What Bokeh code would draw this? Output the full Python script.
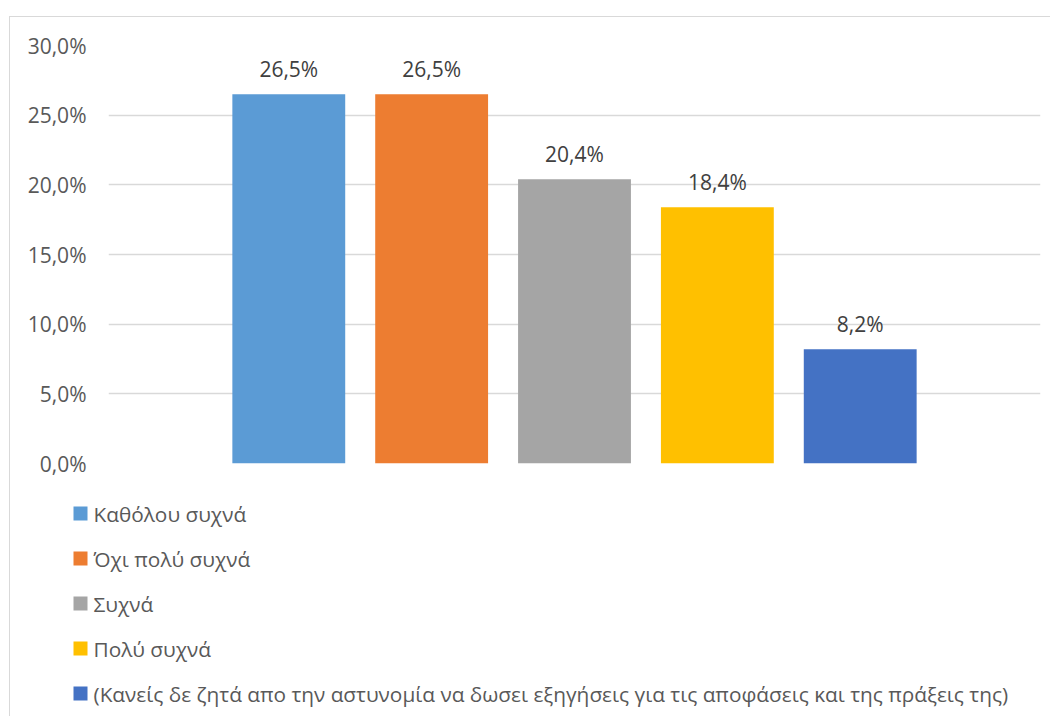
from bokeh.plotting import figure
from bokeh.models import (ColumnDataSource, Range1d,
                          CustomJSTickFormatter, LabelSet, SingleIntervalTicker)
from bokeh.layouts import column, row
from bokeh.core.properties import value
from bokeh.embed import file_html
from bokeh.resources import INLINE

categories = [
    "Καθόλου συχνά",
    "Όχι πολύ συχνά",
    "Συχνά",
    "Πολύ συχνά",
    "(Κανείς δε ζητά απο την αστυνομία να δωσει εξηγήσεις για τις αποφάσεις και της πράξεις της)",
]
values = [26.5, 26.5, 20.4, 18.4, 8.2]
colors = ["#5B9BD5", "#ED7D31", "#A5A5A5", "#FFC000", "#4472C4"]
labels = ["26,5%", "26,5%", "20,4%", "18,4%", "8,2%"]

FONT = "Open Sans"
BORDER = "1px solid #d9d9d9"

# ---- main chart ----
p = figure(width=1040, height=470, output_backend="svg", toolbar_location=None,
           x_range=Range1d(-1.262, 5.262), y_range=Range1d(0, 30),
           min_border_left=98, min_border_right=10, min_border_top=28,
           min_border_bottom=24)
p.outline_line_color = None
p.border_fill_color = "white"

src = ColumnDataSource(dict(x=list(range(len(values))), top=values,
                            color=colors, label=labels))
p.vbar(x="x", top="top", width=0.79, bottom=0, fill_color="color",
       line_color=None, source=src)

lbl = LabelSet(x="x", y="top", text="label", source=src, text_align="center",
               text_baseline="alphabetic", y_offset=17, text_font=value(FONT),
               text_font_size="21px", text_color="#404040")
p.add_layout(lbl)

p.xaxis.visible = False
p.xgrid.visible = False
p.yaxis.ticker = SingleIntervalTicker(interval=5)
p.yaxis.formatter = CustomJSTickFormatter(
    code="return tick.toFixed(1).replace('.', ',') + '%';")
p.yaxis.axis_line_color = None
p.yaxis.major_tick_line_color = None
p.yaxis.minor_tick_line_color = None
p.yaxis.major_label_text_font = FONT
p.yaxis.major_label_text_font_size = "21px"
p.yaxis.major_label_text_color = "#595959"
p.yaxis.major_label_standoff = 16
p.ygrid.grid_line_color = "#d9d9d9"
p.ygrid.grid_line_width = 1.5

# ---- legend panel (vertical list of series) ----
LEG_H = 229
TOP = 26.0
PITCH = 45.0
q = figure(width=1040, height=LEG_H, output_backend="svg", toolbar_location=None,
           x_range=Range1d(0, 1040),
           y_range=Range1d((LEG_H - TOP) / PITCH, -TOP / PITCH),
           min_border_left=0, min_border_right=0, min_border_top=0,
           min_border_bottom=0)
q.axis.visible = False
q.grid.visible = False
q.outline_line_color = None
q.border_fill_color = "white"

leg_src = ColumnDataSource(dict(y=list(range(len(categories))),
                                label=categories, color=colors))
q.scatter(x=70, y="y", marker="square", size=14, fill_color="color",
          line_color=None, source=leg_src)
q.text(x=83, y="y", text="label", source=leg_src, text_baseline="middle",
       text_font=value(FONT), text_font_size="20.8px",
       text_color="#595959")

layout = column(p, row(q), spacing=0)
layout.styles = {"margin-left": "9px", "margin-top": "16px",
                 "border-left": BORDER, "border-top": BORDER}

open("out.html", "w").write(file_html(layout, INLINE))
